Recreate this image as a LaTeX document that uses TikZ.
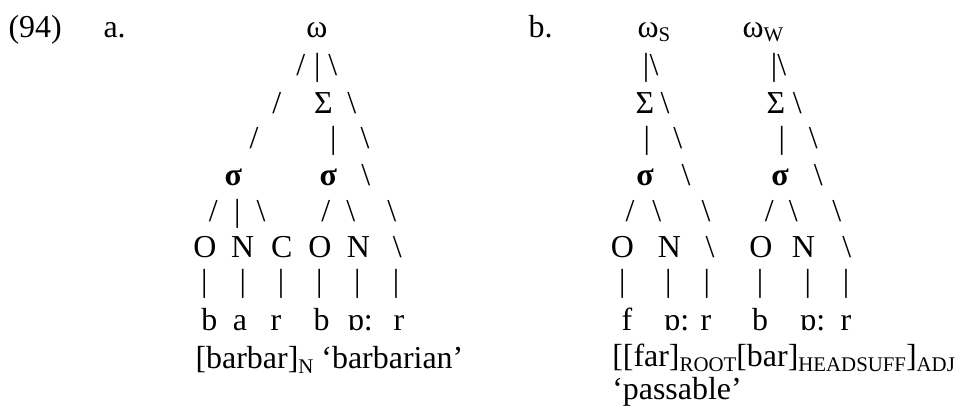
\documentclass[tikz,border=0pt]{standalone}
\usepackage{fontspec}
\setmainfont{Liberation Serif}
\newcommand{\bs}{\textbackslash}
\newcommand{\lowsub}[2][1.6pt]{\raisebox{-#1}{\fontsize{7.5}{7.5}\selectfont #2}}

\begin{document}
\begin{tikzpicture}[x=0.36pt, y=-0.36pt,
            every node/.style={inner sep=0pt, anchor=base, font=\fontsize{11.5}{13}\selectfont},
            lbl/.style={anchor=base west}]
            \useasboundingbox (0,0) rectangle (962,410);
            \node[lbl](num) at (8,37.5) {(94)};
            \node[lbl](exa) at (103,37.5) {a.};
            \node[lbl](exb) at (528,37.5) {b.};

            % (a) barbar
            \node(aw) at (317,37.5) {ω};
            \node(a2l) at (300.7,75) {/};
            \node(a2m) at (317.3,75) {|};
            \node(a2r) at (332.7,75) {\bs};
            \node(a3l) at (276.7,113) {/};
            \node(aF) at (323.3,113) {Σ};
            \node(a3r) at (351.7,113) {\bs};
            \node(a4l) at (254,148) {/};
            \node(a4m) at (333.3,148) {|};
            \node(a4r) at (365,148) {\bs};
            \node(as1) at (233.3,185) {\textbf{σ}};
            \node(as2) at (328.3,185) {\textbf{σ}};
            \node(a5r) at (365.7,185) {\bs};
            \node(a6a) at (213.3,221) {/};
            \node(a6b) at (237.3,221) {|};
            \node(a6c) at (261,221) {\bs};
            \node(a6d) at (325.7,221) {/};
            \node(a6e) at (350.7,221) {\bs};
            \node(a6f) at (391.7,221) {\bs};
            \node(aO1) at (205,257) {O};
            \node(aN1) at (242.7,257) {N};
            \node(aC1) at (281.7,257) {C};
            \node(aO2) at (320,257) {O};
            \node(aN2) at (358.3,257) {N};
            \node(a7r) at (397.3,257) {\bs};
            \node(a8a) at (204.3,291) {|};
            \node(a8b) at (242.7,291) {|};
            \node(a8c) at (281,291) {|};
            \node(a8d) at (319.3,291) {|};
            \node(a8e) at (357.3,291) {|};
            \node(a8f) at (396,291) {|};
            \node(ab1) at (209.3,330) {b};
            \node(aa1) at (240,330) {a};
            \node(ar1) at (276,330) {r};
            \node(ab2) at (321.7,330) {b};
            \node[lbl](aa2) at (346.7,330) {ɒ:};
            \node(ar2) at (399,330) {r};
            \node[lbl](aglo) at (195,368) {[barbar]\lowsub[2pt]{N} ‘barbarian’};

            % (b) farbar, strong word
            \node[lbl](sw) at (637,37.5) {ω\lowsub{S}};
            \node(s2m) at (646,75) {|};
            \node(s2r) at (654,75) {\bs};
            \node(sF) at (645,113) {Σ};
            \node(s3r) at (665,113) {\bs};
            \node(s4m) at (646.7,148) {|};
            \node(s4r) at (677.7,148) {\bs};
            \node(ss) at (645,185) {\textbf{σ}};
            \node(s5r) at (686,185) {\bs};
            \node(s6a) at (630,221) {/};
            \node(s6b) at (656.7,221) {\bs};
            \node(s6c) at (706,221) {\bs};
            \node(sO) at (622.3,257) {O};
            \node(sN) at (669.3,257) {N};
            \node(s7r) at (710,257) {\bs};
            \node(s8a) at (622.3,291) {|};
            \node(s8b) at (668.3,291) {|};
            \node(s8c) at (706.7,291) {|};
            \node(sf) at (627,330) {f};
            \node[lbl](sa) at (663,330) {ɒ:};
            \node(sr) at (706,330) {r};

            % (b) farbar, weak word
            \node[lbl](ww) at (742,37.5) {ω\lowsub{W}};
            \node(w2m) at (774,75) {|};
            \node(w2r) at (781.7,75) {\bs};
            \node(wF) at (775.8,113) {Σ};
            \node(w3r) at (797.3,113) {\bs};
            \node(w4m) at (781.7,148) {|};
            \node(w4r) at (813.3,148) {\bs};
            \node(ws) at (780,185) {\textbf{σ}};
            \node(w5r) at (818.3,185) {\bs};
            \node(w6a) at (769.3,221) {/};
            \node(w6b) at (793.3,221) {\bs};
            \node(w6c) at (836.7,221) {\bs};
            \node(wO) at (761,257) {O};
            \node(wN) at (803.3,257) {N};
            \node(w7r) at (846.7,257) {\bs};
            \node(w8a) at (760,291) {|};
            \node(w8b) at (807.7,291) {|};
            \node(w8c) at (846,291) {|};
            \node(wb) at (760,330) {b};
            \node[lbl](wa) at (799,330) {ɒ:};
            \node(wr) at (846,330) {r};

            \node[lbl](bglo) at (611.7,366) {[[far]\lowsub[2pt]{ROOT}[bar]\lowsub[2pt]{HEADSUFF}]\lowsub[2pt]{ADJ}};
            \node[lbl](bgl2) at (611.7,399) {‘passable’};
        \end{tikzpicture}
\end{document}
